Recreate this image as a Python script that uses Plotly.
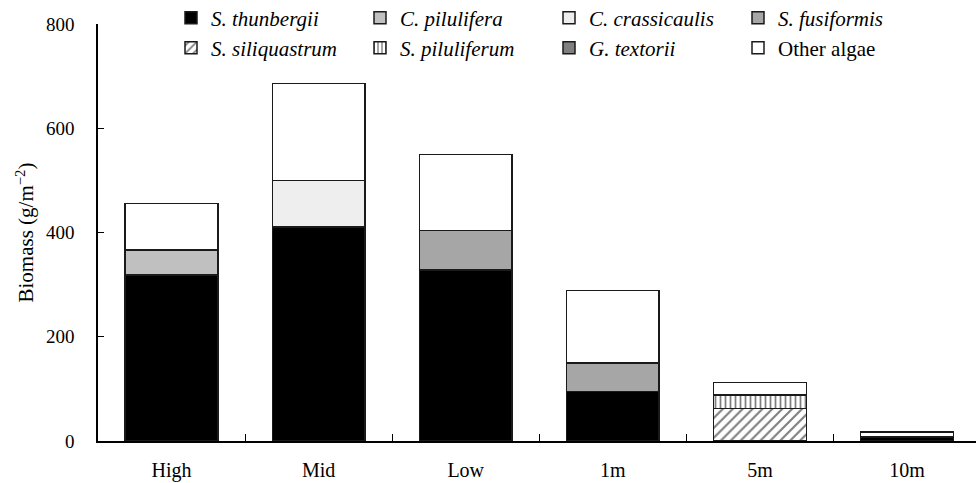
import plotly.graph_objects as go

# Sampling sites along the shore-to-depth gradient
sites = ["High", "Mid", "Low", "1m", "5m", "10m"]

# Biomass (g/m^-2) per taxon at each site; None = absent
s_thunbergii = [318, 411, 328, 95, None, 8]
c_pilulifera = [48, None, None, None, None, None]
c_crassicaulis = [None, 89, None, None, None, None]
s_fusiformis = [None, None, 76, 55, None, None]
s_siliquastrum = [None, None, None, None, 62, None]
s_piluliferum = [None, None, None, None, 26, None]
g_textorii = [None, None, None, None, None, None]
other_algae = [90, 186, 146, 139, 24, 9]

y_ticks = [0, 200, 400, 600, 800]

FONT = "Liberation Serif, Times New Roman, serif"
EDGE = dict(color="#1a1a1a", width=1.5)

series = [
    ("<i>S. thunbergii</i>", s_thunbergii, "#000000", None, "legend"),
    ("<i>C. pilulifera</i>", c_pilulifera, "#c0c0c0", None, "legend"),
    ("<i>C. crassicaulis</i>", c_crassicaulis, "#eeeeee", None, "legend"),
    ("<i>S. fusiformis</i>", s_fusiformis, "#a6a6a6", None, "legend"),
    ("<i>S. siliquastrum</i>", s_siliquastrum, "#ffffff",
     dict(shape="/", fgcolor="#000000", bgcolor="#ffffff", size=7, solidity=0.3), "legend2"),
    ("<i>S. piluliferum</i>", s_piluliferum, "#ffffff",
     dict(shape="|", fgcolor="#000000", bgcolor="#ffffff", size=5, solidity=0.35), "legend2"),
    ("<i>G. textorii</i>", g_textorii, "#808080", None, "legend2"),
    ("Other algae", other_algae, "#ffffff", None, "legend2"),
]

fig = go.Figure()
for name, vals, color, pattern, leg in series:
    marker = dict(color=color, line=EDGE)
    if pattern is not None:
        marker["pattern"] = pattern
    fig.add_trace(go.Bar(
        x=sites, y=vals, name=name, marker=marker, legend=leg,
        width=0.63,
    ))

legend_common = dict(
    orientation="h",
    xref="container", yref="container",
    x=171 / 976, xanchor="left", yanchor="middle",
    entrywidth=144, entrywidthmode="pixels",
    font=dict(family=FONT, size=21, color="#000000"),
    bgcolor="rgba(0,0,0,0)", borderwidth=0,
    traceorder="normal", tracegroupgap=0,
)

fig.update_layout(
    barmode="stack",
    width=976, height=483,
    margin=dict(l=98, r=0, t=24, b=42, autoexpand=False),
    paper_bgcolor="#ffffff", plot_bgcolor="#ffffff",
    font=dict(family=FONT, size=19, color="#000000"),
    showlegend=True,
    legend=dict(legend_common, y=1 - 18 / 483),
    legend2=dict(legend_common, y=1 - 48 / 483),
    xaxis=dict(
        type="category", range=[-0.5, 5.469],
        showline=True, linecolor="#000000", linewidth=1.5,
        ticks="inside", tickson="boundaries", ticklen=7,
        tickcolor="#000000", tickwidth=1.2,
        tickfont=dict(family=FONT, size=20),
        ticklabelstandoff=10,
        showgrid=False, zeroline=False,
    ),
    yaxis=dict(
        range=[0, 800], tickvals=y_ticks,
        showline=True, linecolor="#000000", linewidth=1.5,
        ticks="inside", ticklen=6, tickcolor="#000000", tickwidth=1.2,
        tickfont=dict(family=FONT, size=19),
        ticklabelstandoff=18,
        showgrid=False, zeroline=False,
    ),
    annotations=[dict(
        text="Biomass (g/m<sup>\u22122</sup>)",
        xref="paper", yref="paper", x=-73 / 878, y=0.5,
        xanchor="center", yanchor="middle", textangle=-90,
        showarrow=False, font=dict(family=FONT, size=21, color="#000000"),
    )],
)

fig.write_html("out.html")
